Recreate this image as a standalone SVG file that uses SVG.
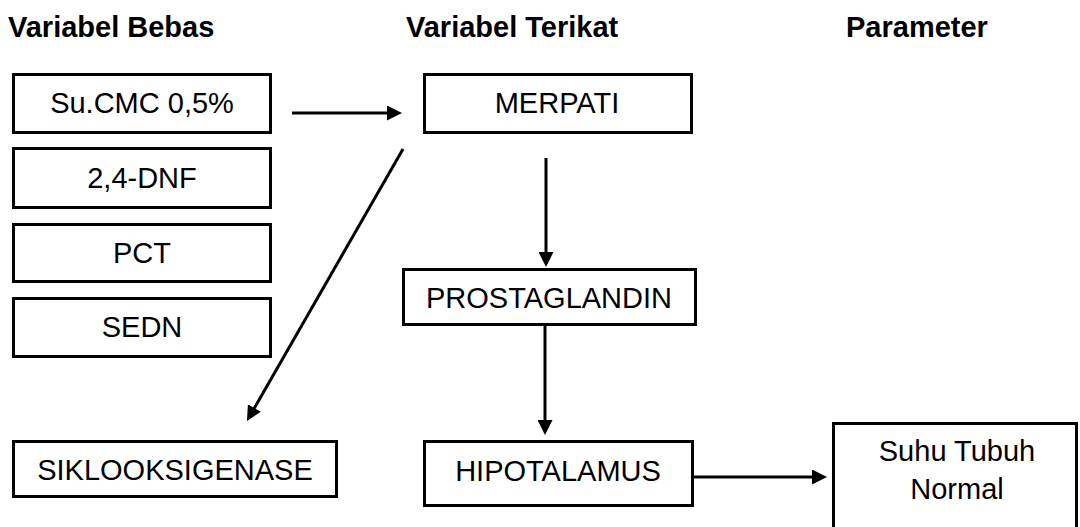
<svg xmlns="http://www.w3.org/2000/svg" width="1080" height="527" viewBox="0 0 1080 527">
<style>
.box{fill:#fff;stroke:#000;stroke-width:3}
.t{font-family:"Liberation Sans",Arial,sans-serif;font-size:29px;fill:#000;text-anchor:middle}
.h{font-family:"Liberation Sans",Arial,sans-serif;font-size:29px;font-weight:bold;fill:#000}
.c{stroke:#000;stroke-width:3;fill:none;marker-end:url(#ah)}
</style>
<defs>
<marker id="ah" viewBox="0 0 10 10" refX="7" refY="5" markerWidth="15" markerHeight="15" markerUnits="userSpaceOnUse" orient="auto">
<path d="M0,0 L10,5 L0,10 Z" fill="#000"/>
</marker>
</defs>
<rect width="1080" height="527" fill="#fff"/>
<g id="headers">
<text class="h" x="8" y="37">Variabel Bebas</text>
<text class="h" x="406" y="37">Variabel Terikat</text>
<text class="h" x="846" y="37">Parameter</text>
</g>
<g id="n-sucmc"><rect class="box" x="13.5" y="74.5" width="257" height="58"/><text class="t" x="142" y="113">Su.CMC 0,5%</text></g>
<g id="n-dnf"><rect class="box" x="13.5" y="148.5" width="257" height="59"/><text class="t" x="142" y="188">2,4-DNF</text></g>
<g id="n-pct"><rect class="box" x="13.5" y="224.5" width="257" height="57"/><text class="t" x="142" y="263">PCT</text></g>
<g id="n-sedn"><rect class="box" x="13.5" y="298.5" width="257" height="58"/><text class="t" x="142" y="337">SEDN</text></g>
<g id="n-siklo"><rect class="box" x="13.5" y="441.5" width="323" height="55"/><text class="t" x="175" y="480">SIKLOOKSIGENASE</text></g>
<g id="n-merpati"><rect class="box" x="424.5" y="74.5" width="267" height="58"/><text class="t" x="557" y="113">MERPATI</text></g>
<g id="n-prosta"><rect class="box" x="403.5" y="269.5" width="292" height="55"/><text class="t" x="549" y="308">PROSTAGLANDIN</text></g>
<g id="n-hipo"><rect class="box" x="424.5" y="441.5" width="268" height="64"/><text class="t" x="558" y="481">HIPOTALAMUS</text></g>
<g id="n-suhu"><rect class="box" x="833.5" y="423.5" width="243" height="130"/><text class="t" x="957" y="461">Suhu Tubuh</text><text class="t" x="957" y="499">Normal</text></g>
<g id="connectors">
<line class="c" x1="292" y1="113" x2="397.5" y2="113"/>
<line class="c" x1="403" y1="149" x2="249.2" y2="417.1"/>
<line class="c" x1="546" y1="158" x2="546" y2="262.5"/>
<line class="c" x1="545" y1="326" x2="545" y2="430.5"/>
<line class="c" x1="694" y1="477" x2="822.5" y2="477"/>
</g>
</svg>
